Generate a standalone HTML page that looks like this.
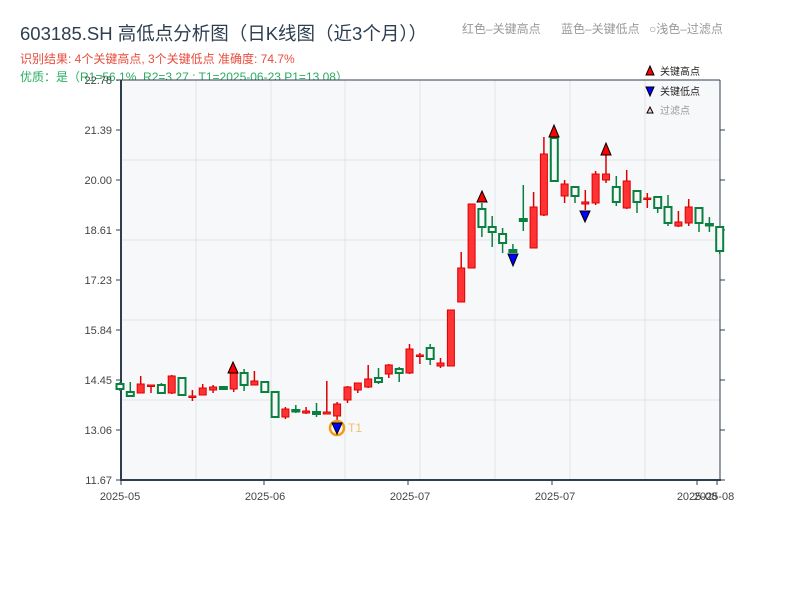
<!DOCTYPE html>
<html><head><meta charset="utf-8"><style>
body{margin:0;background:#fff;}
svg text{font-family:"Liberation Sans","Noto Sans CJK SC",sans-serif;}
.r path{stroke:#d00;stroke-width:1.5;fill:none}
.r rect{fill:#ff3333;stroke:#d00;stroke-width:1}
.g path{stroke:#0a8040;stroke-width:1.5;fill:none}
.g rect{fill:#f7f8fa;stroke:#0a8040;stroke-width:2}
</style></head><body>
<svg width="800" height="600" xmlns="http://www.w3.org/2000/svg">
<rect width="800" height="600" fill="#fff"/>
<text x="20" y="40" font-size="18.5" fill="#2c3e50">603185.SH 高低点分析图（日K线图（近3个月））</text>
<text x="462" y="33" font-size="12" fill="#999">红色–关键高点</text>
<text x="561" y="33" font-size="12" fill="#999">蓝色–关键低点</text>
<text x="649" y="33" font-size="12" fill="#999">○浅色–过滤点</text>
<text x="20" y="63" font-size="12" fill="#e74c3c">识别结果: 4个关键高点, 3个关键低点  准确度: 74.7%</text>
<text x="20" y="81" font-size="12" fill="#27ae60">优质：是（R1=56.1%, R2=3.27 ; T1=2025-06-23 P1=13.08）</text>
<rect x="121" y="80" width="599" height="400" fill="#f7f8fa"/>
<g stroke="#e0e3ea" stroke-width="1">
<line x1="121" y1="160" x2="720" y2="160"/><line x1="121" y1="240" x2="720" y2="240"/>
<line x1="121" y1="320" x2="720" y2="320"/><line x1="121" y1="400" x2="720" y2="400"/>
<line x1="196" y1="80" x2="196" y2="480"/><line x1="271" y1="80" x2="271" y2="480"/>
<line x1="345" y1="80" x2="345" y2="480"/><line x1="420" y1="80" x2="420" y2="480"/>
<line x1="495" y1="80" x2="495" y2="480"/><line x1="570" y1="80" x2="570" y2="480"/>
<line x1="645" y1="80" x2="645" y2="480"/>
</g>
<g stroke="#2c3e50">
<line x1="121" y1="80" x2="720" y2="80" stroke-width="1"/>
<line x1="720" y1="80" x2="720" y2="480" stroke-width="1"/>
<line x1="121" y1="80" x2="121" y2="481" stroke-width="2"/>
<line x1="120" y1="480" x2="721" y2="480" stroke-width="2"/>
</g>
<g stroke="#2c3e50" stroke-width="1">
<line x1="116" y1="80" x2="121" y2="80"/><line x1="116" y1="130" x2="121" y2="130"/><line x1="116" y1="180" x2="121" y2="180"/><line x1="116" y1="230" x2="121" y2="230"/><line x1="116" y1="280" x2="121" y2="280"/><line x1="116" y1="330" x2="121" y2="330"/><line x1="116" y1="380" x2="121" y2="380"/><line x1="116" y1="430" x2="121" y2="430"/><line x1="116" y1="480" x2="121" y2="480"/>
<line x1="720" y1="130" x2="725" y2="130"/><line x1="720" y1="180" x2="725" y2="180"/><line x1="720" y1="230" x2="725" y2="230"/><line x1="720" y1="280" x2="725" y2="280"/><line x1="720" y1="330" x2="725" y2="330"/><line x1="720" y1="380" x2="725" y2="380"/><line x1="720" y1="430" x2="725" y2="430"/><line x1="720" y1="480" x2="725" y2="480"/>
<line x1="121" y1="480" x2="121" y2="485"/><line x1="264" y1="480" x2="264" y2="485"/><line x1="408" y1="480" x2="408" y2="485"/><line x1="552" y1="480" x2="552" y2="485"/><line x1="697" y1="480" x2="697" y2="485"/><line x1="717" y1="480" x2="717" y2="485"/>
</g>
<g font-size="11" fill="#444" text-anchor="end">
<text x="112" y="84">22.78</text><text x="112" y="134">21.39</text><text x="112" y="184">20.00</text><text x="112" y="234">18.61</text><text x="112" y="284">17.23</text><text x="112" y="334">15.84</text><text x="112" y="384">14.45</text><text x="112" y="434">13.06</text><text x="112" y="484">11.67</text>
</g>
<g font-size="11" fill="#444" text-anchor="middle">
<text x="120" y="500">2025-05</text><text x="265" y="500">2025-06</text><text x="410" y="500">2025-07</text><text x="555" y="500">2025-07</text><text x="697" y="500">2025-08</text><text x="714" y="500">2025-08</text>
</g>

<g class="g"><path d="M120,382V391"/><rect x="116.5" y="384" width="7" height="5"/></g>
<g class="g"><path d="M130.3,382V397"/><rect x="126.8" y="392" width="7" height="4"/></g>
<g class="r"><path d="M140.7,376V393"/><rect x="137.2" y="384" width="7" height="9"/></g>
<g class="r"><path d="M151,385V393"/><rect x="147.5" y="385" width="7" height="1.5"/></g>
<g class="g"><path d="M161.4,383V394"/><rect x="157.9" y="385" width="7" height="8"/></g>
<g class="r"><path d="M171.7,375V394"/><rect x="168.2" y="376" width="7" height="17"/></g>
<g class="g"><path d="M182,377V396"/><rect x="178.5" y="378" width="7" height="17"/></g>
<g class="r"><path d="M192.4,390V401"/><rect x="188.9" y="396" width="7" height="1.5"/></g>
<g class="r"><path d="M202.7,384V395"/><rect x="199.2" y="388" width="7" height="7"/></g>
<g class="r"><path d="M213.1,385V393"/><rect x="209.6" y="387" width="7" height="3"/></g>
<g class="g"><path d="M223.4,386V390"/><rect x="219.9" y="387" width="7" height="2"/></g>
<g class="r"><path d="M233.7,373V392"/><rect x="230.2" y="373" width="7" height="16"/></g>
<g class="g"><path d="M244.1,369V391"/><rect x="240.6" y="373" width="7" height="12"/></g>
<g class="r"><path d="M254.4,371V385"/><rect x="250.9" y="381" width="7" height="4"/></g>
<g class="g"><path d="M264.8,382V392"/><rect x="261.3" y="382" width="7" height="10"/></g>
<g class="g"><path d="M275.1,392V417"/><rect x="271.6" y="392" width="7" height="25"/></g>
<g class="r"><path d="M285.4,407V419"/><rect x="281.9" y="409" width="7" height="8"/></g>
<g class="g"><path d="M295.8,405V413"/><rect x="292.3" y="410" width="7" height="1.5"/></g>
<g class="r"><path d="M306.1,407V414"/><rect x="302.6" y="411" width="7" height="2"/></g>
<g class="g"><path d="M316.5,403V417"/><rect x="313" y="412" width="7" height="2"/></g>
<g class="r"><path d="M326.8,381V414"/><rect x="323.3" y="412" width="7" height="2"/></g>
<g class="r"><path d="M337.1,402V421"/><rect x="333.6" y="404" width="7" height="12"/></g>
<g class="r"><path d="M347.5,386V403"/><rect x="344" y="387" width="7" height="13"/></g>
<g class="r"><path d="M357.8,383V393"/><rect x="354.3" y="383" width="7" height="7"/></g>
<g class="r"><path d="M368.2,365V388"/><rect x="364.7" y="379" width="7" height="8"/></g>
<g class="g"><path d="M378.5,368V384"/><rect x="375" y="378" width="7" height="4"/></g>
<g class="r"><path d="M388.8,364V378"/><rect x="385.3" y="365" width="7" height="9"/></g>
<g class="g"><path d="M399.2,367V382"/><rect x="395.7" y="369" width="7" height="4"/></g>
<g class="r"><path d="M409.5,344V374"/><rect x="406" y="349" width="7" height="24"/></g>
<g class="r"><path d="M419.9,353V364"/><rect x="416.4" y="355" width="7" height="1.5"/></g>
<g class="g"><path d="M430.2,344V365"/><rect x="426.7" y="348" width="7" height="11"/></g>
<g class="r"><path d="M440.5,358V368"/><rect x="437" y="363" width="7" height="3"/></g>
<g class="r"><path d="M450.9,310V366"/><rect x="447.4" y="310" width="7" height="56"/></g>
<g class="r"><path d="M461.2,252V302"/><rect x="457.7" y="268" width="7" height="34"/></g>
<g class="r"><path d="M471.6,204V268"/><rect x="468.1" y="204" width="7" height="64"/></g>
<g class="g"><path d="M481.9,203V237"/><rect x="478.4" y="209" width="7" height="18"/></g>
<g class="g"><path d="M492.2,216V247"/><rect x="488.7" y="227" width="7" height="5"/></g>
<g class="g"><path d="M502.6,228V253"/><rect x="499.1" y="234" width="7" height="9"/></g>
<g class="g"><path d="M512.9,244V253"/><rect x="509.4" y="250" width="7" height="2"/></g>
<g class="g"><path d="M523.3,185V231"/><rect x="519.8" y="219" width="7" height="2"/></g>
<g class="r"><path d="M533.6,192V248"/><rect x="530.1" y="207" width="7" height="41"/></g>
<g class="r"><path d="M543.9,137V216"/><rect x="540.4" y="154" width="7" height="61"/></g>
<g class="g"><path d="M554.3,138V181"/><rect x="550.8" y="138" width="7" height="43"/></g>
<g class="r"><path d="M564.6,180V203"/><rect x="561.1" y="184" width="7" height="12"/></g>
<g class="g"><path d="M575,187V203"/><rect x="571.5" y="187" width="7" height="9"/></g>
<g class="r"><path d="M585.3,190V210"/><rect x="581.8" y="202" width="7" height="2"/></g>
<g class="r"><path d="M595.6,171V205"/><rect x="592.1" y="174" width="7" height="29"/></g>
<g class="r"><path d="M606,155V183"/><rect x="602.5" y="174" width="7" height="6"/></g>
<g class="g"><path d="M616.3,176V206"/><rect x="612.8" y="187" width="7" height="15"/></g>
<g class="r"><path d="M626.7,170V209"/><rect x="623.2" y="181" width="7" height="27"/></g>
<g class="g"><path d="M637,191V213"/><rect x="633.5" y="191" width="7" height="11"/></g>
<g class="r"><path d="M647.3,193V208"/><rect x="643.8" y="198" width="7" height="1.5"/></g>
<g class="g"><path d="M657.7,197V213"/><rect x="654.2" y="197" width="7" height="11"/></g>
<g class="g"><path d="M668,195V226"/><rect x="664.5" y="207" width="7" height="16"/></g>
<g class="r"><path d="M678.4,211V227"/><rect x="674.9" y="222" width="7" height="4"/></g>
<g class="r"><path d="M688.7,199V226"/><rect x="685.2" y="207" width="7" height="16"/></g>
<g class="g"><path d="M699,208V232"/><rect x="695.5" y="208" width="7" height="15"/></g>
<g class="g"><path d="M709.4,217V232"/><rect x="705.9" y="224" width="7" height="1.5"/></g>
<g class="g"><path d="M719.7,227V254"/><rect x="716.2" y="227" width="7" height="24"/></g>

<circle cx="337" cy="428" r="7" fill="none" stroke="#f39c12" stroke-width="2.5"/>
<text x="348" y="432" font-size="12" fill="#f5c06a">T1</text>
<g stroke="#000" stroke-width="1">
<polygon points="228,373 238,373 233,362" fill="#f00"/>
<polygon points="477,202 487,202 482,191" fill="#f00"/>
<polygon points="549,137 559,137 554,125" fill="#f00"/>
<polygon points="601,155 611,155 606,143" fill="#f00"/>
<polygon points="332,423 342,423 337,434" fill="#00f"/>
<polygon points="508,254 518,254 513,266" fill="#00f"/>
<polygon points="580,211 590,211 585,222" fill="#00f"/>
<polygon points="646,75 654,75 650,66" fill="#f00"/>
<polygon points="646,87 654,87 650,96" fill="#00f"/>
<polygon points="647,113 653,113 650,107" fill="#fcc"/>
</g>
<text x="660" y="75" font-size="10" fill="#222">关键高点</text>
<text x="660" y="95" font-size="10" fill="#222">关键低点</text>
<text x="660" y="114" font-size="10" fill="#999">过滤点</text>
</svg>
</body></html>
